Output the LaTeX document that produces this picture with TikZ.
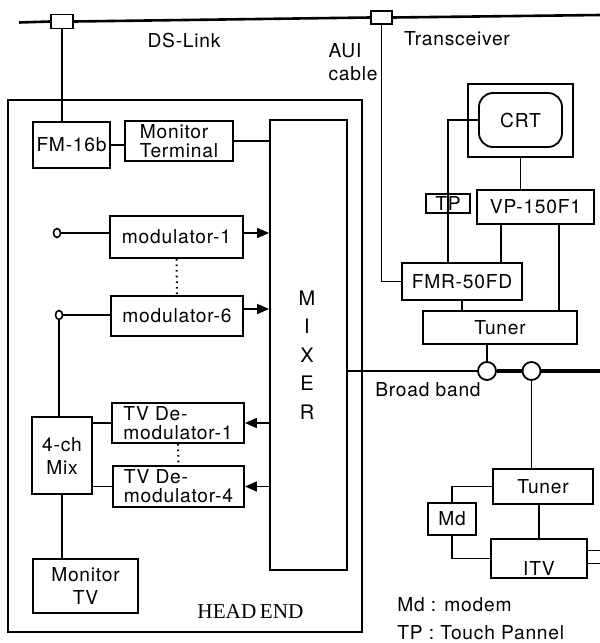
\documentclass[tikz,border=0pt]{standalone}
\usepackage{fontspec}
\setmainfont{TeX Gyre Heros}[LetterSpace=4]
\newfontfamily\serifhe{Liberation Serif}
\usetikzlibrary{arrows.meta,positioning,calc,shapes.geometric}

\tikzset{
    blk/.style={draw, line width=0.9pt, inner sep=0pt, align=center},
    jack/.style={draw, ellipse, line width=0.8pt, inner sep=0pt, minimum width=3.5pt, minimum height=4.5pt},
    tap/.style={draw, circle, line width=0.9pt, inner sep=0pt, minimum width=9pt, minimum height=7.5pt, fill=white},
    wire/.style={line width=0.8pt},
    feed/.style={line width=0.8pt, -{Triangle[length=6pt,width=5pt]}},
    lbl/.style={inner sep=0pt, align=left}
}

\begin{document}
\begin{tikzpicture}[x=0.5pt, y=-0.5pt, font=\fontsize{9.6}{11.5}\selectfont]
    \useasboundingbox (0,0) rectangle (600,643);

    % DS-Link backbone
    \coordinate (dsl) at (19,22.5);
    \coordinate (dsr) at (600,15);
    \node[blk, minimum width=11pt, minimum height=7pt] (dsc) at (62,21.5) {};
    \node[blk, minimum width=10.5pt, minimum height=6.5pt] (auic) at (381.5,17.5) {};
    \draw[line width=1.3pt] (dsl) -- (dsc.west);
    \draw[line width=1.3pt] (dsc.east) -- (auic.west);
    \draw[line width=1.3pt] (auic.east) -- (dsr);
    \node[lbl] (dstxt) at (184,40) {DS-Link};
    \node[lbl] (trtxt) at (457,39) {Transceiver};
    \node[lbl] (auitxt) at (353,62) {AUI\\cable};

    % Head end
    \node[blk, minimum width=177pt, minimum height=266pt] (headend) at (185,366) {};
    \node[inner sep=0pt, font=\serifhe\fontsize{10.6}{12}\selectfont] (hetxt) at (250.5,612) {HEAD\hspace{1.8pt}END};

    \node[blk, minimum width=38.5pt, minimum height=23pt] (fm) at (71.5,145) {FM-16b};
    \node[blk, align=left, minimum width=54pt, minimum height=20pt] (mt) at (179,141) {Monitor\\[-2pt]Terminal};
    \node[blk, minimum width=38.5pt, minimum height=225pt] (mixer) at (308.5,345) {};
    \node[inner sep=0pt, align=center, font=\fontsize{10}{14.25}\selectfont] (mixtxt) at (307,355) {M\\I\\X\\E\\R};

    \node[blk, minimum width=66.5pt, minimum height=21pt] (mod1) at (176.5,237) {modulator-1};
    \node[blk, minimum width=66pt, minimum height=20pt] (mod6) at (177,316) {modulator-6};
    \node[jack] (c1) at (57,233) {};
    \node[jack] (c6) at (59,315) {};

    \node[blk, minimum width=30pt, minimum height=38.5pt] (mix4) at (62,455.5) {4-ch\\Mix};
    \node[blk, align=left, minimum width=66pt, minimum height=20pt] (dem1) at (178,423) {TV De-\\[-2pt]modulator-1};
    \node[blk, align=left, minimum width=65.5pt, minimum height=20.5pt] (dem4) at (178.5,486.5) {TV De-\\[-2pt]modulator-4};
    \node[blk, minimum width=52.5pt, minimum height=27pt] (mtv) at (85.5,586) {Monitor\\TV};

    \draw[wire] (dsc.south) -- (dsc.south |- fm.north);
    \draw[wire] (fm.east) -- (fm.east -| mt.west);
    \draw[wire] (mt.east) -- (mt.east -| mixer.west);
    \draw[wire] (c1.east) -- (c1 -| mod1.west);
    \draw[feed] (c1 -| mod1.east) -- (c1 -| mixer.west);
    \draw[wire] (c6.east) -- (c6 -| mod6.west);
    \draw[feed] ([yshift=3.5pt]mod6.east) -- ([yshift=3.5pt]mod6.east -| mixer.west);
    \draw[wire, dotted, line width=1pt] (mod1.south) -- (mod6.north);
    \draw[wire] (c6.south) -- (c6.south |- mix4.north);
    \draw[wire] (mix4.south) -- (mix4.south |- mtv.north);
    \draw[wire] (dem1.west) -- (dem1.west -| mix4.east);
    \draw[wire] (dem4.west) -- (dem4.west -| mix4.east);
    \draw[feed] (dem1.east -| mixer.west) -- (dem1.east);
    \draw[feed] (dem4.east -| mixer.west) -- (dem4.east);
    \draw[wire, dotted, line width=1pt] (dem1.south) -- (dem4.north);

    % Terminal side
    \node[blk, minimum width=52.5pt, minimum height=36.5pt] (mon) at (520.5,120.5) {};
    \node[blk, rounded corners=7pt, minimum width=41.5pt, minimum height=27pt] (crt) at (520.5,120) {CRT};
    \node[blk, minimum width=22pt, minimum height=9.5pt] (tp) at (448,203.5) {TP};
    \node[blk, minimum width=58.5pt, minimum height=17pt] (vp) at (535.5,207) {VP-150F1};
    \node[blk, minimum width=60pt, minimum height=18.5pt] (fmr) at (462,281.5) {FMR-50FD};
    \node[blk, minimum width=77pt, minimum height=16.5pt] (tun1) at (500,327.5) {Tuner};

    \draw[wire] (auic.south) |- (fmr.west);
    \draw[wire] (crt.west) -| (tp.center) -- (tp.center |- fmr.north);
    \draw[wire] (mon.south) -- (mon.south |- vp.north);
    \coordinate (vpa) at ($(vp.south west)!0.21!(vp.south east)$);
    \coordinate (vpb) at ($(vp.south west)!0.70!(vp.south east)$);
    \draw[wire] (vpa) -- (vpa |- fmr.north);
    \draw[wire] (vpb) -- (vpb |- tun1.north);
    \draw[wire] (fmr.south) -- (fmr.south |- tun1.north);

    % Broad band
    \node[tap] (o1) at (487,371) {};
    \node[tap] (o2) at (531.5,371) {};
    \coordinate (bbr) at (600,371);
    \draw[wire] (o1 -| mixer.east) -- (o1.west);
    \draw[line width=1.6pt] (o1.east) -- (o2.west);
    \draw[line width=1.6pt] (o2.east) -- (bbr);
    \draw[wire] (o1.north) -- (o1.north |- tun1.south);
    \node[lbl] (bbtxt) at (428,390) {Broad band};

    \node[blk, minimum width=50pt, minimum height=17.5pt] (tun2) at (543,486.5) {Tuner};
    \node[blk, minimum width=24pt, minimum height=16pt] (md) at (452,519) {Md};
    \node[blk, minimum width=48pt, minimum height=19.5pt, label={[anchor=south, inner sep=1.5pt]south:ITV}] (itv) at (539,558.5) {};
    \draw[wire] (o2.south) -- (o2.south |- tun2.north);
    \draw[wire] (tun2.west) -| (md.north);
    \draw[wire] (md.south) |- (itv.west);
    \draw[wire] (itv.north |- tun2.south) -- (itv.north);
    \draw[wire] ([yshift=4pt]itv.east) -- +(13,0);
    \draw[wire] ([yshift=-2.5pt]itv.east) -- +(13,0);

    \node[lbl, anchor=west] (mdkey) at (397,605) {Md : modem};
    \node[lbl, anchor=west] (tpkey) at (397,633) {TP : Touch Pannel};
\end{tikzpicture}
\end{document}
